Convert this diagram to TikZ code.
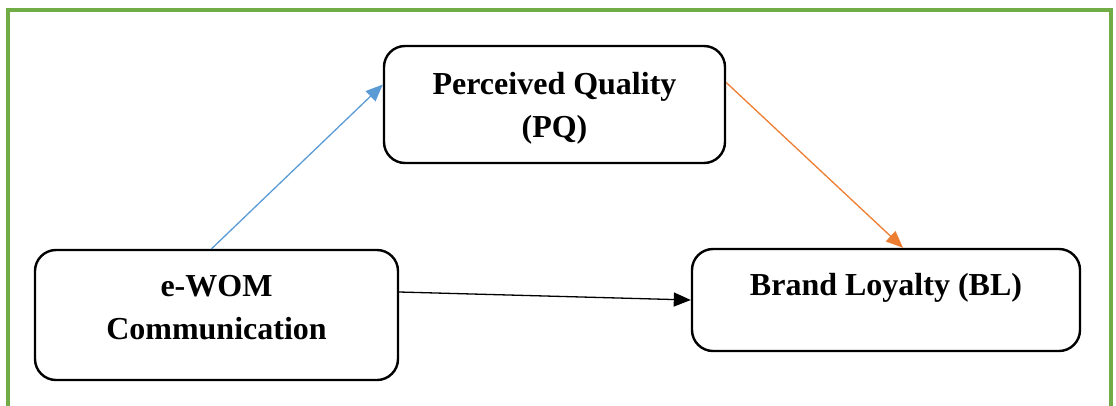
\documentclass[tikz,border=0pt]{standalone}
\usepackage{fontspec}
\setmainfont{Liberation Serif}
\usetikzlibrary{arrows.meta}
\definecolor{framegreen}{HTML}{70AD47}
\definecolor{linkblue}{HTML}{5B9BD5}
\definecolor{linkorange}{HTML}{ED7D31}
\begin{document}
\begin{tikzpicture}[x=1pt,y=-1pt,
  boxstyle/.style={draw=black, line width=2.4pt, rounded corners=21pt, inner sep=0pt},
  labelstyle/.style={font=\fontsize{32}{43}\selectfont\bfseries, align=center, inner sep=0pt},
  link/.style={line width=1.3pt, -{Triangle[length=17pt,width=14pt]}}]
\useasboundingbox (0,0) rectangle (1116,405);
% open frame round the model
\draw[framegreen, line width=3.2pt] (8,420) -- (8,10) -- (1111,10) -- (1111,420);

% construct boxes
\node[boxstyle, minimum width=341pt, minimum height=117pt] (pq) at (554.5,104.5) {};
\node[boxstyle, minimum width=363pt, minimum height=130pt] (ewom) at (216.5,315) {};
\node[boxstyle, minimum width=388pt, minimum height=102pt] (bl) at (886,300) {};

% construct names
\node[labelstyle] (pqtext) at (554.5,108) {Perceived Quality\\(PQ)};
\node[labelstyle] (ewomtext) at (216.5,308) {e-WOM\\Communication};
\node[labelstyle] (bltext) at (886,288) {Brand Loyalty (BL)};

% paths
\draw[link, linkblue] ([xshift=-5pt]ewom.north) -- ([yshift=20pt]pq.west);
\draw[link, linkorange] ([yshift=22pt]pq.east) -- ([xshift=17pt]bl.north);
\draw[link, black] ([yshift=23pt]ewom.east) -- (bl.west);
\end{tikzpicture}
\end{document}
